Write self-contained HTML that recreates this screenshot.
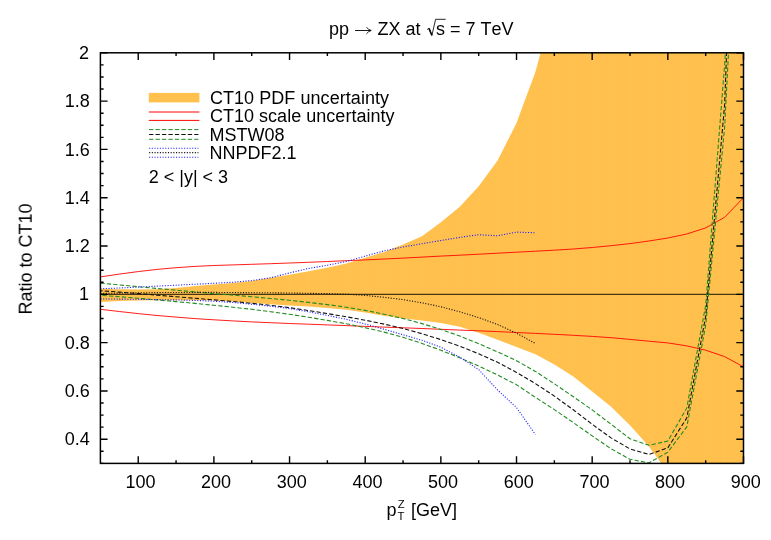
<!DOCTYPE html><html><head><meta charset="utf-8"><style>html,body{margin:0;padding:0;background:#fff}body{width:771px;height:540px;position:relative;overflow:hidden}</style></head><body><svg width="771" height="540" viewBox="0 0 771 540" style="position:absolute;left:0;top:0;font-family:'Liberation Sans',sans-serif;font-size:18px;font-kerning:none" fill="none">
<defs><clipPath id="c"><rect x="100.4" y="52.8" width="643.1" height="410.6"/></clipPath></defs>
<g clip-path="url(#c)">
<path d="M100.4,288.7 L119.3,289.3 L138.2,289.5 L157.1,289.3 L176.1,287.9 L195.0,286.1 L213.9,284.6 L232.8,283.1 L251.7,280.9 L270.6,277.7 L289.5,274.7 L308.5,271.3 L327.4,267.7 L346.3,263.4 L365.2,257.8 L384.1,251.9 L403.0,244.6 L422.0,236.2 L440.9,222.3 L459.8,206.8 L478.7,186.3 L497.6,160.5 L516.5,123.1 L535.4,71.9 L554.4,1.8 L743.5,-5.0 L743.5,480.0 L667.8,472.1 L648.9,446.6 L630.0,425.2 L611.1,406.8 L592.2,391.6 L573.3,376.6 L554.4,364.5 L535.4,354.2 L516.5,347.0 L497.6,339.8 L478.7,332.8 L459.8,326.8 L440.9,323.0 L422.0,320.5 L403.0,318.4 L384.1,315.8 L365.2,312.5 L346.3,309.7 L327.4,308.0 L308.5,306.6 L289.5,305.4 L270.6,304.2 L251.7,302.9 L232.8,301.6 L213.9,300.6 L195.0,300.3 L176.1,300.3 L157.1,300.3 L138.2,300.4 L119.3,301.1 L100.4,302.0Z" fill="#ffc04d"/>
<path d="M119.3,52.8 V463.4 M138.2,52.8 V463.4 M157.1,52.8 V463.4 M176.1,52.8 V463.4 M195.0,52.8 V463.4 M213.9,52.8 V463.4 M232.8,52.8 V463.4 M251.7,52.8 V463.4 M270.6,52.8 V463.4 M289.5,52.8 V463.4 M308.5,52.8 V463.4 M327.4,52.8 V463.4 M346.3,52.8 V463.4 M365.2,52.8 V463.4 M384.1,52.8 V463.4 M403.0,52.8 V463.4 M422.0,52.8 V463.4 M440.9,52.8 V463.4 M459.8,52.8 V463.4 M478.7,52.8 V463.4 M497.6,52.8 V463.4 M516.5,52.8 V463.4 M535.4,52.8 V463.4 M554.4,52.8 V463.4 M573.3,52.8 V463.4 M592.2,52.8 V463.4 M611.1,52.8 V463.4 M630.0,52.8 V463.4 M648.9,52.8 V463.4 M667.8,52.8 V463.4 M686.8,52.8 V463.4 M705.7,52.8 V463.4 M724.6,52.8 V463.4" stroke="#fff" stroke-opacity="0.04" stroke-width="1"/>
<path d="M100.4,294.3 H743.5" stroke="#000" stroke-width="0.9"/>
<path d="M100.4,276.9 L119.3,274.1 L138.2,271.6 L157.1,269.4 L176.1,267.7 L195.0,266.4 L213.9,265.5 L232.8,264.9 L251.7,264.3 L270.6,263.7 L289.5,263.0 L308.5,262.3 L327.4,261.5 L346.3,260.7 L365.2,259.9 L384.1,259.0 L403.0,258.1 L422.0,257.1 L440.9,256.1 L459.8,255.2 L478.7,254.2 L497.6,253.2 L516.5,252.2 L535.4,251.2 L554.4,250.2 L573.3,249.0 L592.2,247.5 L611.1,245.7 L630.0,243.6 L648.9,241.0 L667.8,238.0 L686.8,234.0 L705.7,227.9 L724.6,217.3 L743.5,197.7" stroke="#ff0500" stroke-width="0.9"/>
<path d="M100.4,309.3 L119.3,311.5 L138.2,313.6 L157.1,315.5 L176.1,317.1 L195.0,318.6 L213.9,319.8 L232.8,320.9 L251.7,321.9 L270.6,322.7 L289.5,323.5 L308.5,324.2 L327.4,324.9 L346.3,325.6 L365.2,326.4 L384.1,327.1 L403.0,327.8 L422.0,328.5 L440.9,329.3 L459.8,330.1 L478.7,330.8 L497.6,331.6 L516.5,332.5 L535.4,333.4 L554.4,334.3 L573.3,335.3 L592.2,336.4 L611.1,337.7 L630.0,339.4 L648.9,341.2 L667.8,342.9 L686.8,345.9 L705.7,350.2 L724.6,356.6 L743.5,366.8" stroke="#ff0500" stroke-width="0.9"/>
<path d="M100.4,283.1 L119.3,284.9 L138.2,286.7 L157.1,288.5 L176.1,290.2 L195.0,291.9 L213.9,293.6 L232.8,295.1 L251.7,296.7 L270.6,298.5 L289.5,300.3 L308.5,302.4 L327.4,304.6 L346.3,307.2 L365.2,310.4 L384.1,314.2 L403.0,318.5 L422.0,323.6 L440.9,329.4 L459.8,336.1 L478.7,343.7 L497.6,351.9 L516.5,360.7 L535.4,371.4 L554.4,383.8 L573.3,396.7 L592.2,409.9 L611.1,424.3 L630.0,438.8 L648.9,445.3 L667.8,441.1 L686.8,407.9 L705.7,305.2 L724.6,65.2 L727.0,24.0" stroke="#228b22" stroke-width="1.1" stroke-dasharray="4.3 2.15"/>
<path d="M100.4,295.3 L119.3,296.7 L138.2,298.3 L157.1,299.9 L176.1,301.6 L195.0,303.4 L213.9,305.3 L232.8,307.2 L251.7,309.3 L270.6,311.7 L289.5,314.3 L308.5,317.2 L327.4,320.4 L346.3,323.8 L365.2,327.7 L384.1,332.1 L403.0,337.3 L422.0,343.4 L440.9,350.3 L459.8,357.8 L478.7,366.1 L497.6,375.0 L516.5,384.7 L535.4,397.4 L554.4,409.6 L573.3,422.6 L592.2,435.9 L611.1,448.8 L630.0,459.3 L648.9,462.9 L667.8,452.2 L686.8,426.9 L705.7,325.2 L724.6,127.7 L731.0,5.0" stroke="#228b22" stroke-width="1.1" stroke-dasharray="4.3 2.15" stroke-dashoffset="4.3"/>
<path d="M100.4,290.7 L119.3,292.1 L138.2,293.6 L157.1,295.2 L176.1,296.7 L195.0,298.3 L213.9,299.9 L232.8,301.5 L251.7,303.3 L270.6,305.3 L289.5,307.7 L308.5,310.5 L327.4,313.6 L346.3,316.8 L365.2,320.2 L384.1,324.1 L403.0,328.5 L422.0,333.7 L440.9,339.6 L459.8,346.2 L478.7,353.8 L497.6,362.3 L516.5,372.4 L535.4,383.6 L554.4,396.1 L573.3,409.8 L592.2,424.3 L611.1,437.9 L630.0,448.9 L648.9,454.5 L667.8,447.9 L686.8,417.9 L705.7,316.2 L724.6,105.2 L728.5,3.0" stroke="#111" stroke-width="1.1" stroke-dasharray="4.3 2.15" stroke-dashoffset="2.15"/>
<path d="M100.4,288.8 L119.3,288.0 L138.2,287.1 L157.1,286.1 L176.1,285.2 L195.0,284.2 L213.9,283.3 L232.8,282.3 L251.7,280.6 L270.6,277.8 L289.5,272.9 L308.5,268.5 L327.4,265.2 L346.3,261.5 L365.2,256.2 L384.1,250.8 L403.0,247.0 L422.0,243.7 L440.9,240.5 L459.8,237.4 L478.7,234.7 L497.6,235.8 L516.5,232.1 L535.4,232.8" stroke="#2020ff" stroke-width="1.1" stroke-dasharray="1.1 1.59"/>
<path d="M100.4,298.9 L119.3,299.1 L138.2,299.3 L157.1,299.6 L176.1,299.9 L195.0,300.4 L213.9,301.2 L232.8,302.5 L251.7,304.2 L270.6,306.2 L289.5,308.6 L308.5,311.8 L327.4,315.4 L346.3,319.3 L365.2,324.0 L384.1,329.2 L403.0,334.7 L422.0,340.3 L440.9,347.2 L459.8,357.2 L478.7,369.6 L497.6,390.0 L516.5,407.6 L535.4,434.5" stroke="#2020ff" stroke-width="1.1" stroke-dasharray="1.1 1.59"/>
<path d="M100.4,293.5 L119.3,293.1 L138.2,292.8 L157.1,292.6 L176.1,292.5 L195.0,292.4 L213.9,292.4 L232.8,292.5 L251.7,292.7 L270.6,292.8 L289.5,293.0 L308.5,293.3 L327.4,293.6 L346.3,294.2 L365.2,295.4 L384.1,297.3 L403.0,299.6 L422.0,302.8 L440.9,306.8 L459.8,311.8 L478.7,317.6 L497.6,324.5 L516.5,333.2 L535.4,343.5" stroke="#111" stroke-width="1.1" stroke-dasharray="1.1 1.59"/>
</g>
<path d="M138.23,463.40 v-7.2 M138.23,52.80 v7.2 M176.06,463.40 v-3.2 M176.06,52.80 v3.2 M213.89,463.40 v-7.2 M213.89,52.80 v7.2 M251.72,463.40 v-3.2 M251.72,52.80 v3.2 M289.55,463.40 v-7.2 M289.55,52.80 v7.2 M327.38,463.40 v-3.2 M327.38,52.80 v3.2 M365.21,463.40 v-7.2 M365.21,52.80 v7.2 M403.04,463.40 v-3.2 M403.04,52.80 v3.2 M440.86,463.40 v-7.2 M440.86,52.80 v7.2 M478.69,463.40 v-3.2 M478.69,52.80 v3.2 M516.52,463.40 v-7.2 M516.52,52.80 v7.2 M554.35,463.40 v-3.2 M554.35,52.80 v3.2 M592.18,463.40 v-7.2 M592.18,52.80 v7.2 M630.01,463.40 v-3.2 M630.01,52.80 v3.2 M667.84,463.40 v-7.2 M667.84,52.80 v7.2 M705.67,463.40 v-3.2 M705.67,52.80 v3.2 M743.50,463.40 v-7.2 M743.50,52.80 v7.2 M100.40,463.40 h3.2 M743.50,463.40 h-3.2 M100.40,451.32 h3.2 M743.50,451.32 h-3.2 M100.40,439.25 h7.2 M743.50,439.25 h-7.2 M100.40,427.17 h3.2 M743.50,427.17 h-3.2 M100.40,415.09 h3.2 M743.50,415.09 h-3.2 M100.40,403.02 h3.2 M743.50,403.02 h-3.2 M100.40,390.94 h7.2 M743.50,390.94 h-7.2 M100.40,378.86 h3.2 M743.50,378.86 h-3.2 M100.40,366.79 h3.2 M743.50,366.79 h-3.2 M100.40,354.71 h3.2 M743.50,354.71 h-3.2 M100.40,342.64 h7.2 M743.50,342.64 h-7.2 M100.40,330.56 h3.2 M743.50,330.56 h-3.2 M100.40,318.48 h3.2 M743.50,318.48 h-3.2 M100.40,306.41 h3.2 M743.50,306.41 h-3.2 M100.40,294.33 h7.2 M743.50,294.33 h-7.2 M100.40,282.25 h3.2 M743.50,282.25 h-3.2 M100.40,270.18 h3.2 M743.50,270.18 h-3.2 M100.40,258.10 h3.2 M743.50,258.10 h-3.2 M100.40,246.02 h7.2 M743.50,246.02 h-7.2 M100.40,233.95 h3.2 M743.50,233.95 h-3.2 M100.40,221.87 h3.2 M743.50,221.87 h-3.2 M100.40,209.79 h3.2 M743.50,209.79 h-3.2 M100.40,197.72 h7.2 M743.50,197.72 h-7.2 M100.40,185.64 h3.2 M743.50,185.64 h-3.2 M100.40,173.56 h3.2 M743.50,173.56 h-3.2 M100.40,161.49 h3.2 M743.50,161.49 h-3.2 M100.40,149.41 h7.2 M743.50,149.41 h-7.2 M100.40,137.34 h3.2 M743.50,137.34 h-3.2 M100.40,125.26 h3.2 M743.50,125.26 h-3.2 M100.40,113.18 h3.2 M743.50,113.18 h-3.2 M100.40,101.11 h7.2 M743.50,101.11 h-7.2 M100.40,89.03 h3.2 M743.50,89.03 h-3.2 M100.40,76.95 h3.2 M743.50,76.95 h-3.2 M100.40,64.88 h3.2 M743.50,64.88 h-3.2 M100.40,52.80 h7.2 M743.50,52.80 h-7.2" stroke="#000" stroke-width="1.4"/>
<rect x="100.4" y="52.8" width="643.1" height="410.6" stroke="#000" stroke-width="1.5"/>
<g fill="#000" opacity="0.999">
<text x="140.4" y="488" text-anchor="middle">100</text>
<text x="216.1" y="488" text-anchor="middle">200</text>
<text x="291.7" y="488" text-anchor="middle">300</text>
<text x="367.4" y="488" text-anchor="middle">400</text>
<text x="443.1" y="488" text-anchor="middle">500</text>
<text x="518.7" y="488" text-anchor="middle">600</text>
<text x="594.4" y="488" text-anchor="middle">700</text>
<text x="670.0" y="488" text-anchor="middle">800</text>
<text x="745.7" y="488" text-anchor="middle">900</text>
<text x="89.8" y="445.3" text-anchor="end">0.4</text>
<text x="89.8" y="397.0" text-anchor="end">0.6</text>
<text x="89.8" y="348.7" text-anchor="end">0.8</text>
<text x="88.9" y="300.4" text-anchor="end">1</text>
<text x="89.8" y="252.1" text-anchor="end">1.2</text>
<text x="89.8" y="203.8" text-anchor="end">1.4</text>
<text x="89.8" y="155.5" text-anchor="end">1.6</text>
<text x="89.8" y="107.2" text-anchor="end">1.8</text>
<text x="88.9" y="58.9" text-anchor="end">2</text>
<text transform="translate(31.7,259.0) rotate(-90)" text-anchor="middle">Ratio to CT10</text>
<text x="386.5" y="516.4">p</text><text x="397.7" y="507.9" font-size="11.3">Z</text><text x="397.6" y="520.4" font-size="11.3">T</text><text x="410.9" y="516.4">[GeV]</text>
<text x="329.0" y="35.4">pp</text><text x="377.5" y="35.4">ZX at</text><text x="436.0" y="35.4">s = 7 TeV</text>
<text x="209.9" y="103.7" textLength="179.2">CT10 PDF uncertainty</text>
<text x="209.9" y="122.2" textLength="184.7">CT10 scale uncertainty</text>
<text x="209.5" y="140.7">MSTW08</text>
<text x="209.5" y="159.1">NNPDF2.1</text>
<text x="148.7" y="182.9">2 &lt; |y| &lt; 3</text>
</g>
<path d="M355,30.5 H371 M366.5,27.3 Q368.5,29.8 371.2,30.5 Q368.5,31.2 366.5,33.7" stroke="#000" stroke-width="0.9"/>
<path d="M427.2,29.5 L429.0,28.4 L431.9,35.4 L435.6,19.3 H445.7" stroke="#000" stroke-width="0.85" stroke-linejoin="miter"/><path d="M429.0,28.4 L431.9,35.4" stroke="#000" stroke-width="1.5"/>
<rect x="148.8" y="92.9" width="50.6" height="9.5" fill="#ffc04d"/>
<path d="M148.8,112 H199.4 M148.8,120.4 H199.4" stroke="#ff0500" stroke-width="1"/>
<path d="M149.1,129.6 H198.4 M149.1,139.3 H198.4" stroke="#228b22" stroke-width="1" stroke-dasharray="4.3 2.15"/>
<path d="M149.1,134.5 H198.4" stroke="#111" stroke-width="1" stroke-dasharray="4.3 2.15"/>
<path d="M149.1,148.2 H198.4 M149.1,157.2 H198.4" stroke="#2020ff" stroke-width="1.1" stroke-dasharray="1.1 1.59"/>
<path d="M149.1,152.6 H198.4" stroke="#111" stroke-width="1.1" stroke-dasharray="1.1 1.59"/>
</svg></body></html>
